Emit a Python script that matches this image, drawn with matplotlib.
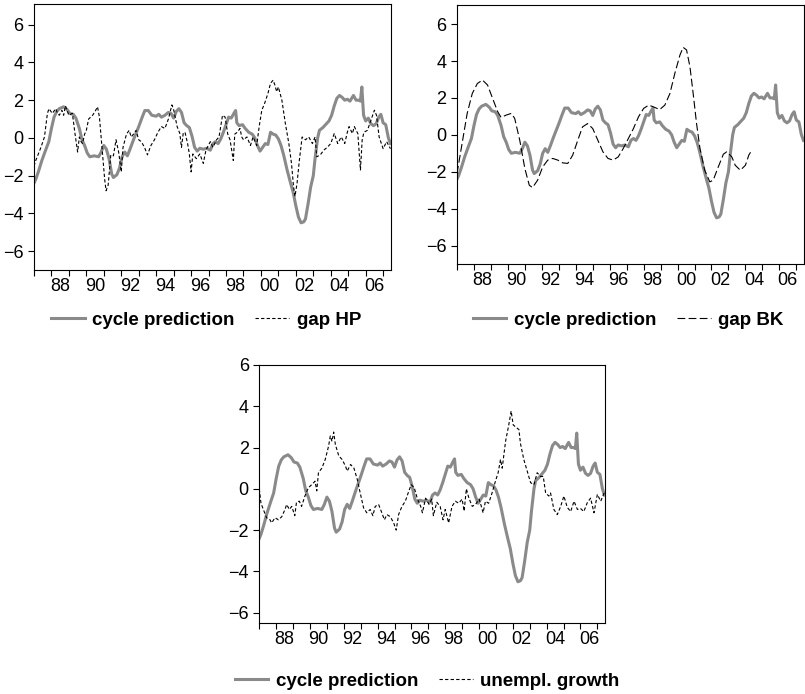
import numpy as np
import matplotlib.pyplot as plt
from matplotlib.lines import Line2D

plt.rcParams['font.family'] = ['Liberation Sans', 'DejaVu Sans']

# cycle prediction (same series in all three panels), decimal years
cycle_t = [1987.0, 1987.1, 1987.25, 1987.45, 1987.67, 1987.85, 1988.0, 1988.15, 1988.3, 1988.45,
           1988.7, 1988.9, 1989.05, 1989.25, 1989.4, 1989.6, 1989.75, 1989.9, 1990.05, 1990.2,
           1990.45, 1990.7, 1990.85, 1991.0, 1991.15, 1991.3, 1991.45, 1991.55, 1991.75, 1991.9,
           1992.05, 1992.2, 1992.35, 1992.5, 1992.7, 1992.85, 1993.0, 1993.2, 1993.35, 1993.55,
           1993.75, 1994.0, 1994.15, 1994.3, 1994.5, 1994.7, 1994.85, 1995.0, 1995.15, 1995.3,
           1995.45, 1995.6, 1995.75, 1995.9, 1996.05, 1996.2, 1996.35, 1996.5, 1996.7, 1996.9,
           1997.1, 1997.25, 1997.4, 1997.55, 1997.7, 1997.85, 1998.0, 1998.15, 1998.3, 1998.45,
           1998.55, 1998.62, 1998.75, 1998.95, 1999.1, 1999.3, 1999.5, 1999.65, 1999.8, 1999.95,
           2000.1, 2000.25, 2000.4, 2000.55, 2000.7, 2000.85, 2001.0, 2001.15, 2001.3, 2001.5,
           2001.7, 2001.85, 2002.0, 2002.15, 2002.3, 2002.45, 2002.55, 2002.7, 2002.85, 2003.0,
           2003.1, 2003.25, 2003.35, 2003.55, 2003.75, 2003.9, 2004.05, 2004.2, 2004.35, 2004.5,
           2004.65, 2004.8, 2004.95, 2005.1, 2005.3, 2005.45, 2005.6, 2005.7, 2005.78, 2005.88,
           2006.0, 2006.15, 2006.3, 2006.45, 2006.6, 2006.75, 2006.87, 2007.0, 2007.15, 2007.3,
           2007.42]
cycle_v = [-2.4, -2.2, -1.8, -1.2, -0.64, -0.2, 0.5, 1.1, 1.4, 1.55,
           1.65, 1.5, 1.3, 1.25, 1.05, 0.5, -0.1, -0.4, -0.8, -1.0,
           -0.95, -1.0, -0.75, -0.4, -0.6, -1.1, -1.9, -2.1, -1.95, -1.6,
           -1.0, -0.75, -0.95, -0.6, -0.1, 0.25, 0.6, 1.1, 1.45, 1.45,
           1.2, 1.15, 1.25, 1.1, 1.2, 1.35, 1.3, 1.05, 1.4, 1.55,
           1.35, 0.8, 0.65, 0.55, 0.1, -0.5, -0.7, -0.55, -0.6, -0.55,
           -0.65, -0.3, -0.2, -0.3, -0.05, 0.3, 0.7, 1.1, 1.05, 1.3,
           1.45, 0.8, 0.65, 0.7, 0.5, 0.3, 0.2, 0.0, -0.4, -0.7,
           -0.5, -0.3, -0.35, 0.3, 0.2, 0.15, -0.05, -0.4, -0.9, -1.7,
           -2.4, -2.9, -3.6, -4.2, -4.5, -4.45, -4.3, -3.5, -2.6, -2.0,
           -1.1, 0.0, 0.4, 0.55, 0.75, 0.9, 1.2, 1.7, 2.1, 2.25,
           2.15, 2.0, 2.05, 1.95, 2.25, 2.0, 2.0, 1.95, 2.7, 1.2,
           0.9, 1.05, 0.75, 0.65, 0.75, 1.1, 1.25, 0.8, 0.7, 0.0,
           -0.3]

# output gap, HP filter
hp_t = [1987.0, 1987.1, 1987.4, 1987.6, 1987.77, 1987.86, 1988.05, 1988.25, 1988.35, 1988.45,
        1988.6, 1988.7, 1988.8, 1989.0, 1989.2, 1989.35, 1989.5, 1989.6, 1989.7, 1989.78,
        1989.9, 1990.0, 1990.13, 1990.36, 1990.5, 1990.64, 1990.75, 1990.93, 1991.05, 1991.13,
        1991.25, 1991.4, 1991.55, 1991.7, 1991.85, 1992.0, 1992.1, 1992.3, 1992.45, 1992.57,
        1992.7, 1992.85, 1993.0, 1993.15, 1993.33, 1993.5, 1993.7, 1993.9, 1994.1, 1994.3,
        1994.5, 1994.7, 1994.9, 1995.0, 1995.2, 1995.35, 1995.45, 1995.55, 1995.65, 1995.8,
        1995.9, 1996.0, 1996.1, 1996.3, 1996.5, 1996.7, 1996.85, 1997.1, 1997.25, 1997.46,
        1997.6, 1997.8, 1997.95, 1998.1, 1998.23, 1998.42, 1998.5, 1998.65, 1998.8, 1998.9,
        1999.0, 1999.2, 1999.4, 1999.55, 1999.76, 1999.9, 2000.05, 2000.2, 2000.4, 2000.55,
        2000.7, 2000.8, 2000.9, 2001.0, 2001.2, 2001.4, 2001.6, 2001.75, 2001.87, 2001.95,
        2002.07, 2002.2, 2002.36, 2002.55, 2002.74, 2002.95, 2003.1, 2003.2, 2003.4, 2003.6,
        2003.8, 2004.0, 2004.2, 2004.4, 2004.6, 2004.8, 2004.95, 2005.05, 2005.24, 2005.35,
        2005.55, 2005.7, 2005.8, 2005.9, 2006.1, 2006.3, 2006.5, 2006.62, 2006.77, 2006.9,
        2007.0, 2007.2, 2007.42]
hp_v = [-1.5, -1.2, -0.5, 0.05, 1.3, 1.55, 1.3, 1.55, 1.3, 1.2,
        1.47, 1.2, 1.7, 1.2, 1.3, 0.23, -0.75, 0.05, -0.2, -0.3,
        0.2, 0.4, 1.0, 1.2, 1.4, 1.65, 1.1, -0.85, -2.2, -2.8,
        -2.5, -0.9, -0.95, -0.1, -0.75, -1.8, -0.5, 0.2, 0.4, 0.05,
        0.2, 0.4, -0.1, -0.2, -0.5, -0.9, -0.4, -0.1, 0.3, 0.6,
        0.5, 1.0, 1.75, 1.5, 0.6, 0.25, -0.5, 0.25, 0.3, -0.3,
        -0.85, -1.8, -0.85, -1.1, -0.85, -1.35, -0.65, -0.2, -0.5, -0.1,
        0.05, 1.2, 1.1, 0.2, -0.1, -1.2, 0.2, 0.3, 0.5, 0.05,
        -0.1, 0.05, -0.4, 0.05, -0.4, 0.6, 1.47, 1.8, 2.35, 2.9,
        3.06, 2.8, 2.45, 2.7, 2.0, 0.76, -0.3, -1.35, -2.6, -3.1,
        -2.4, -1.2, 0.05, -0.1, 0.05, -0.3, 0.05, -1.0, -0.9, -0.65,
        -0.5, -0.3, 0.23, -0.3, 0.05, -0.3, 0.3, 0.6, 0.23, 0.6,
        0.23, -1.7, -0.1, 0.3, 0.4, 0.94, 1.47, 1.2, 0.05, -0.3,
        -0.57, -0.2, -0.57]

# output gap, BK filter
bk_t = [1987.0, 1987.3, 1987.6, 1987.9, 1988.2, 1988.5, 1988.8, 1989.1, 1989.4, 1989.6,
        1989.9, 1990.2, 1990.4, 1990.7, 1991.0, 1991.26, 1991.45, 1991.75, 1992.05, 1992.35,
        1992.64, 1992.94, 1993.23, 1993.53, 1993.82, 1994.12, 1994.4, 1994.7, 1995.0, 1995.3,
        1995.6, 1995.9, 1996.2, 1996.5, 1996.8, 1997.1, 1997.4, 1997.7, 1998.0, 1998.3,
        1998.56, 1998.95, 1999.25, 1999.55, 1999.84, 2000.14, 2000.33, 2000.53, 2000.73, 2000.92,
        2001.12, 2001.32, 2001.6, 2001.9, 2002.1, 2002.4, 2002.7, 2002.9, 2003.2, 2003.4,
        2003.7, 2004.0, 2004.2, 2004.4]
bk_v = [-2.1, -0.47, 1.16, 2.24, 2.78, 2.97, 2.7, 1.97, 1.25, 0.94,
        1.07, 1.16, 0.89, -0.3, -1.83, -2.73, -2.86, -2.46, -1.74, -1.37,
        -1.28, -1.37, -1.52, -1.55, -1.1, -0.29, 0.43, 0.61, 0.34, -0.29,
        -0.92, -1.28, -1.37, -1.2, -0.74, -0.2, 0.34, 0.98, 1.43, 1.61,
        1.52, 1.37, 1.61, 2.24, 3.33, 4.32, 4.74, 4.6, 3.69, 2.24,
        0.61, -0.74, -1.92, -2.55, -2.46, -1.74, -1.05, -0.92, -1.2, -1.65,
        -1.92, -1.65, -1.1, -0.8]

# unemployment growth
un_t = [1987.0, 1987.1, 1987.24, 1987.43, 1987.63, 1987.73, 1987.93, 1988.13, 1988.33, 1988.52,
        1988.62, 1988.78, 1988.92, 1989.1, 1989.2, 1989.37, 1989.5, 1989.7, 1989.9, 1990.1,
        1990.3, 1990.4, 1990.5, 1990.7, 1990.9, 1991.1, 1991.2, 1991.3, 1991.4, 1991.5,
        1991.7, 1991.9, 1992.1, 1992.2, 1992.4, 1992.6, 1992.8, 1992.97, 1993.17, 1993.36,
        1993.56, 1993.72, 1993.86, 1994.06, 1994.25, 1994.4, 1994.55, 1994.75, 1994.95, 1995.1,
        1995.24, 1995.44, 1995.64, 1995.85, 1995.99, 1996.17, 1996.36, 1996.55, 1996.65, 1996.84,
        1997.04, 1997.2, 1997.3, 1997.5, 1997.7, 1997.87, 1998.0, 1998.2, 1998.4, 1998.6,
        1998.8, 1999.0, 1999.12, 1999.25, 1999.4, 1999.6, 1999.8, 2000.0, 2000.1, 2000.24,
        2000.38, 2000.57, 2000.77, 2000.97, 2001.13, 2001.27, 2001.37, 2001.57, 2001.76, 2001.9,
        2002.02, 2002.16, 2002.36, 2002.45, 2002.65, 2002.85, 2003.05, 2003.25, 2003.44, 2003.64,
        2003.8, 2003.94, 2004.13, 2004.23, 2004.43, 2004.63, 2004.83, 2005.02, 2005.22, 2005.42,
        2005.62, 2005.82, 2006.0, 2006.2, 2006.4, 2006.6, 2006.8, 2007.0, 2007.2, 2007.4]
un_v = [0.0, -0.7, -1.0, -1.4, -1.5, -1.65, -1.4, -1.5, -1.35, -1.0,
        -0.76, -1.0, -0.85, -1.3, -0.65, -0.6, -0.85, -0.35, 0.05, 0.2,
        0.37, -0.1, 0.78, 1.0, 1.42, 2.07, 2.56, 2.3, 2.75, 2.15,
        1.6, 1.42, 1.1, 0.86, 1.18, 1.0, 0.45, -0.2, -0.92, -1.16,
        -1.0, -1.3, -0.85, -0.76, -1.16, -1.5, -1.25, -1.35, -1.65, -2.0,
        -1.25, -0.85, -0.6, -0.1, 0.2, 0.05, -0.5, -0.85, -1.16, -0.45,
        -0.75, -0.5, -1.3, -0.65, -0.85, -1.5, -1.0, -1.65, -0.85, -0.6,
        -0.7, -0.5, -1.08, 0.0, -0.45, -0.85, -0.75, -0.5, -0.75, -1.16,
        -0.6, -0.7, -0.2, 0.37, 0.78, 1.42, 1.0, 2.3, 3.1, 3.77,
        3.1, 3.0, 2.87, 2.2, 1.42, 0.86, 0.3, 0.2, 0.78, 0.6,
        0.6, -0.2, -0.35, -0.2, -1.0, -1.25, -0.85, -0.35, -0.9, -1.1,
        -0.6, -1.0, -0.95, -1.1, -0.68, -0.45, -1.16, -0.27, -0.6, -0.2]

year_ticks = np.arange(1987, 2008)
label_years = np.arange(1988, 2007, 2)
year_labels = ['%02d' % (y % 100) for y in label_years]

gray = '#8a8a8a'
fig = plt.figure(figsize=(8.05, 6.94), dpi=100)


def panel(rect, other_t, other_v, dashes, ylim):
    ax = fig.add_axes(rect)
    ax.plot(cycle_t, cycle_v, color=gray, lw=2.2, solid_joinstyle='round')
    ax.plot(other_t, other_v, color='black', lw=0.8, dashes=dashes)
    ax.set_xlim(1987, 2007.45)
    ax.set_ylim(*ylim)
    ax.set_yticks([-6, -4, -2, 0, 2, 4, 6])
    ax.set_xticks(year_ticks)
    ax.set_xticklabels([])
    ax.set_xticks(label_years + 0.5, minor=True)
    ax.set_xticklabels(year_labels, minor=True)
    ax.tick_params(axis='x', which='major', direction='out', length=4, width=0.8)
    ax.tick_params(axis='x', which='minor', length=0, pad=6, labelsize=13)
    ax.tick_params(axis='y', direction='out', length=4, width=0.8, labelsize=13)
    for s in ax.spines.values():
        s.set_linewidth(0.8)
    return ax


panel([0.0422, 0.611, 0.4435, 0.3833], hp_t, hp_v, (3, 2), (-7, 7.1))
panel([0.5677, 0.6196, 0.431, 0.3736], bk_t, bk_v, (7, 3), (-7, 7.05))
panel([0.3221, 0.1023, 0.4294, 0.3718], un_t, un_v, (3, 2), (-6.5, 6))


def legend(x, y, name, dashes):
    handles = [Line2D([], [], color=gray, lw=2.2),
               Line2D([], [], color='black', lw=0.8, dashes=dashes)]
    fig.legend(handles, ['cycle prediction', name], loc='center',
               bbox_to_anchor=(x, y), ncol=2, frameon=False,
               prop={'weight': 'bold', 'size': 13.5}, handlelength=1.8,
               handletextpad=0.4, columnspacing=1.1)


legend(206 / 805, 1 - 320 / 694, 'gap HP', (3, 2))
legend(628 / 805, 1 - 320 / 694, 'gap BK', (7, 3))
legend(427 / 805, 1 - 681 / 694, 'unempl. growth', (3, 2))

fig.savefig('out.png', dpi=100)
